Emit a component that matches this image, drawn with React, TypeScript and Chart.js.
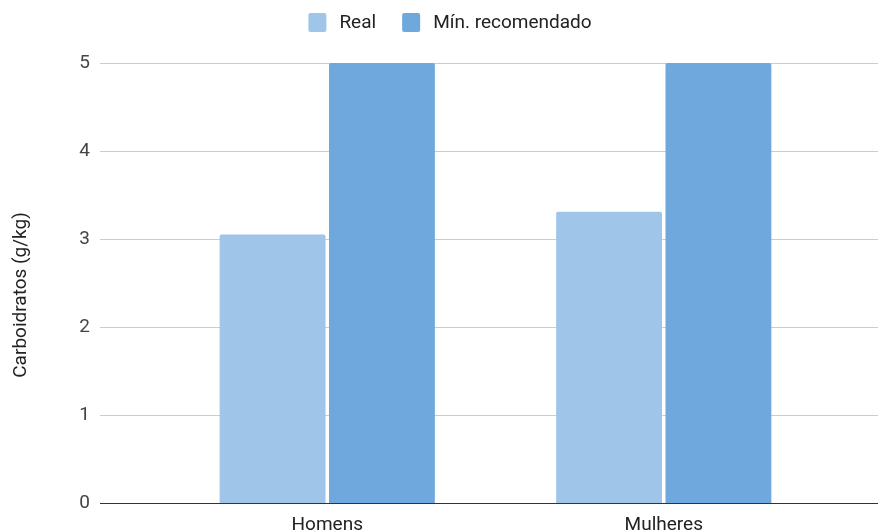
import { useEffect, useRef } from "react";
import { Chart, registerables } from "chart.js";

Chart.register(...registerables);

const categories = ["Homens", "Mulheres"];
const seriesLabels = ["Real", "Mín. recomendado"];
const realValues = [3.05, 3.31];
const minRecommendedValues = [5, 5];
const yTicks = [0, 1, 2, 3, 4, 5];
const yAxisTitle = "Carboidratos (g/kg)";

const FONT = "Roboto";
const FONT_SIZE = 19;
const TEXT = "#222222";
const SERIES_COLORS = ["#9fc5e8", "#6fa8dc"];

// Horizontal gridlines span the full plot width, wider than the bar area.
const fullWidthGrid = {
  id: "fullWidthGrid",
  beforeDatasetsDraw(chart: any) {
    const { ctx, width } = chart;
    const y = chart.scales.y;
    ctx.save();
    ctx.lineWidth = 1;
    ctx.strokeStyle = "#cccccc";
    yTicks.forEach((v) => {
      if (v === 0) return;
      const py = Math.round(y.getPixelForValue(v)) + 0.5;
      ctx.beginPath();
      ctx.moveTo(100, py);
      ctx.lineTo(width, py);
      ctx.stroke();
    });
    ctx.restore();
  },
  afterDatasetsDraw(chart: any) {
    const { ctx, width } = chart;
    const y = chart.scales.y;
    const py = Math.round(y.getPixelForValue(0)) + 0.5;
    ctx.save();
    ctx.strokeStyle = "#333333";
    ctx.lineWidth = 1;
    ctx.beginPath();
    ctx.moveTo(100, py);
    ctx.lineTo(width, py);
    ctx.stroke();
    ctx.restore();
  },
};

// Rotated y-axis title.
const yTitlePlugin = {
  id: "yTitle",
  afterDraw(chart: any) {
    const { ctx } = chart;
    ctx.save();
    ctx.translate(21, 295);
    ctx.rotate(-Math.PI / 2);
    ctx.fillStyle = TEXT;
    ctx.font = `${FONT_SIZE}px ${FONT}`;
    ctx.textAlign = "center";
    ctx.textBaseline = "middle";
    ctx.fillText(yAxisTitle, 0, 0);
    ctx.restore();
  },
};

// Centered legend row above the plot.
const topLegend = {
  id: "topLegend",
  afterDraw(chart: any) {
    const { ctx } = chart;
    const datasets = chart.data.datasets;
    const boxW = 18;
    const boxH = 19;
    const textGap = 13;
    const itemGap = 26;
    ctx.save();
    ctx.font = `${FONT_SIZE}px ${FONT}`;
    const widths = datasets.map((d: any) => boxW + textGap + ctx.measureText(d.label).width);
    const total = widths.reduce((a: number, b: number) => a + b, 0) + itemGap * (datasets.length - 1);
    let x = 450 - total / 2;
    const top = 13;
    datasets.forEach((d: any, i: number) => {
      ctx.fillStyle = d.backgroundColor;
      ctx.beginPath();
      (ctx as any).roundRect(x, top, boxW, boxH, 2);
      ctx.fill();
      ctx.fillStyle = TEXT;
      ctx.textAlign = "left";
      ctx.textBaseline = "middle";
      ctx.fillText(d.label, x + boxW + textGap, top + boxH / 2 + 1);
      x += widths[i] + itemGap;
    });
    ctx.restore();
  },
};

export default function App() {
  const canvasRef = useRef<HTMLCanvasElement | null>(null);

  useEffect(() => {
    if (!canvasRef.current) return;
    const chart = new Chart(canvasRef.current, {
      type: "bar",
      data: {
        labels: categories,
        datasets: [
          {
            label: seriesLabels[0],
            data: realValues,
            backgroundColor: SERIES_COLORS[0],
            borderRadius: 2,
            borderSkipped: "bottom",
            categoryPercentage: 0.65,
            barPercentage: 0.968,
          },
          {
            label: seriesLabels[1],
            data: minRecommendedValues,
            backgroundColor: SERIES_COLORS[1],
            borderRadius: 2,
            borderSkipped: "bottom",
            categoryPercentage: 0.65,
            barPercentage: 0.968,
          },
        ],
      },
      options: {
        animation: false,
        responsive: false,
        maintainAspectRatio: false,
        layout: { padding: { top: 63, right: 46, left: 0, bottom: 0 } },
        plugins: {
          legend: { display: false },
          tooltip: { enabled: false },
        },
        scales: {
          x: {
            grid: { display: false },
            border: { display: false },
            ticks: {
              font: { family: FONT, size: FONT_SIZE },
              color: TEXT,
              padding: 3,
            },
            afterFit(axis: any) {
              axis.height = 27;
            },
          },
          y: {
            min: 0,
            max: 5,
            grid: { display: false, drawTicks: false },
            border: { display: false },
            ticks: {
              stepSize: 1,
              font: { family: FONT, size: FONT_SIZE },
              color: "#444444",
              padding: 69,
            },
            afterFit(axis: any) {
              axis.width = 159;
              axis.paddingTop = 0;
              axis.paddingBottom = 0;
            },
          },
        },
      },
      plugins: [fullWidthGrid, yTitlePlugin, topLegend],
    });
    return () => chart.destroy();
  }, []);

  return (
    <div style={{ position: "absolute", left: 0, top: 0, width: 878, height: 530, background: "#ffffff" }}>
      <canvas ref={canvasRef} width={878} height={530} style={{ display: "block" }} />
    </div>
  );
}
